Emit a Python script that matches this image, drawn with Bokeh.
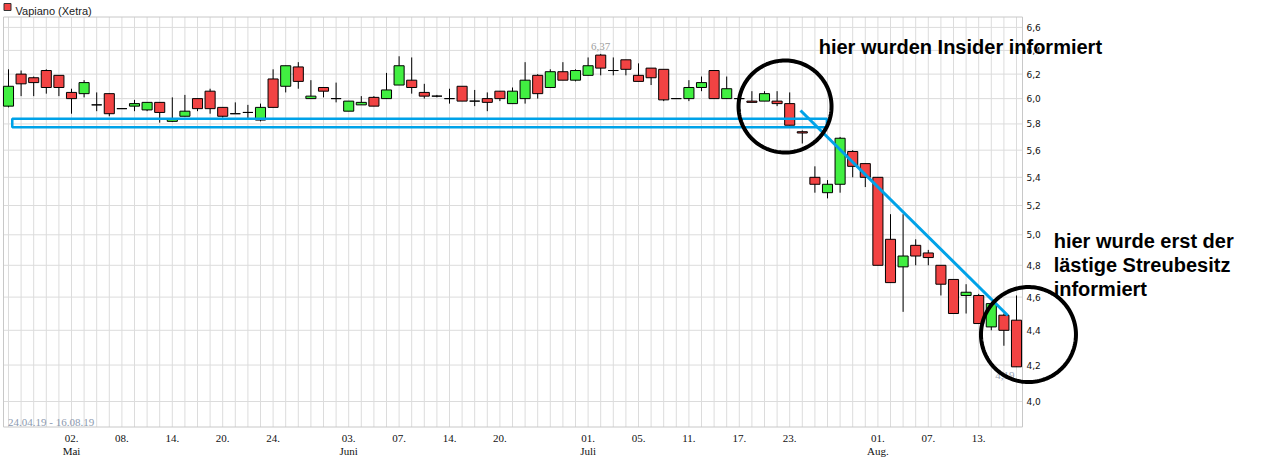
import numpy as np
from bokeh.plotting import figure
from bokeh.models import Range1d, Label, ColumnDataSource
from bokeh.core.properties import value
from bokeh.embed import file_html
from bokeh.resources import INLINE

# ---------------- data ----------------
dates = ["24.04.19", "25.04.19", "26.04.19", "29.04.19", "30.04.19",
         "02.05.19", "03.05.19", "06.05.19", "07.05.19", "08.05.19", "09.05.19", "10.05.19",
         "13.05.19", "14.05.19", "15.05.19", "16.05.19", "17.05.19", "20.05.19", "21.05.19",
         "22.05.19", "23.05.19", "24.05.19", "27.05.19", "28.05.19", "29.05.19", "30.05.19",
         "31.05.19",
         "03.06.19", "04.06.19", "05.06.19", "06.06.19", "07.06.19", "11.06.19", "12.06.19",
         "13.06.19", "14.06.19", "17.06.19", "18.06.19", "19.06.19", "20.06.19", "21.06.19",
         "24.06.19", "25.06.19", "26.06.19", "27.06.19", "28.06.19",
         "01.07.19", "02.07.19", "03.07.19", "04.07.19", "05.07.19", "08.07.19", "09.07.19",
         "10.07.19", "11.07.19", "12.07.19", "15.07.19", "16.07.19", "17.07.19", "18.07.19",
         "19.07.19", "22.07.19", "23.07.19", "24.07.19", "25.07.19", "26.07.19", "29.07.19",
         "30.07.19", "31.07.19",
         "01.08.19", "02.08.19", "05.08.19", "06.08.19", "07.08.19", "08.08.19", "09.08.19",
         "12.08.19", "13.08.19", "14.08.19", "15.08.19", "16.08.19"]

opens = [5.94, 6.20, 6.17, 6.23, 6.19, 6.05, 6.04, 5.95, 6.04, 5.92,
         5.94, 5.91, 5.97, 5.82, 5.86, 6.00, 6.06, 5.93, 5.88, 5.89,
         5.83, 6.16, 6.10, 6.26, 6.00, 6.09, 6.00, 5.90, 5.95, 6.01,
         6.00, 6.11, 6.15, 6.05, 6.02, 6.00, 6.10, 5.98, 6.00, 6.06,
         5.96, 6.00, 6.19, 6.09, 6.22, 6.15, 6.19, 6.36, 6.23, 6.32,
         6.19, 6.25, 6.24, 6.00, 6.00, 6.09, 6.23, 6.00, 6.00, 5.98,
         5.98, 5.98, 5.96, 5.74, 5.40, 5.29, 5.35, 5.59, 5.50, 5.40,
         4.97, 4.79, 4.93, 4.88, 4.80, 4.71, 4.61, 4.61, 4.42, 4.49,
         4.46]
highs = [6.24, 6.23, 6.18, 6.24, 6.19, 6.08, 6.15, 6.05, 6.04, 5.92,
         5.99, 5.97, 5.97, 6.01, 6.03, 6.00, 6.08, 5.93, 5.97, 5.95,
         5.96, 6.24, 6.27, 6.30, 6.15, 6.09, 6.13, 5.98, 6.02, 6.02,
         6.21, 6.35, 6.34, 6.12, 6.03, 6.08, 6.10, 6.07, 6.05, 6.06,
         6.09, 6.30, 6.20, 6.24, 6.30, 6.24, 6.34, 6.37, 6.34, 6.32,
         6.29, 6.25, 6.24, 6.00, 6.15, 6.18, 6.23, 6.18, 6.00, 6.06,
         6.06, 6.06, 6.05, 5.75, 5.48, 5.38, 5.70, 5.60, 5.50, 5.40,
         5.14, 5.14, 4.97, 4.90, 4.80, 4.71, 4.68, 4.62, 4.56, 4.50,
         4.61]
lows = [5.93, 6.02, 6.02, 6.04, 6.02, 5.88, 6.01, 5.90, 5.86, 5.92,
        5.90, 5.90, 5.81, 5.815, 5.86, 5.90, 5.88, 5.85, 5.88, 5.84,
        5.82, 5.93, 6.05, 6.08, 6.00, 6.01, 5.97, 5.90, 5.95, 5.94,
        6.00, 6.11, 6.04, 6.00, 6.01, 5.96, 5.98, 5.94, 5.90, 5.98,
        5.96, 5.96, 6.00, 6.09, 6.15, 6.14, 6.19, 6.19, 6.19, 6.19,
        6.14, 6.11, 5.98, 6.00, 5.98, 6.06, 6.00, 6.00, 6.00, 5.97,
        5.98, 5.94, 5.79, 5.65, 5.29, 5.25, 5.29, 5.40, 5.33, 4.80,
        4.69, 4.51, 4.80, 4.80, 4.61, 4.50, 4.50, 4.44, 4.40, 4.31,
        4.19]
closes = [6.10, 6.12, 6.13, 6.09, 6.09, 6.00, 6.13, 5.95, 5.88, 5.92,
          5.96, 5.97, 5.89, 5.84, 5.90, 5.92, 5.92, 5.86, 5.88, 5.89,
          5.93, 5.93, 6.27, 6.14, 6.02, 6.06, 6.00, 5.98, 5.97, 5.94,
          6.07, 6.27, 6.09, 6.02, 6.02, 6.00, 5.98, 5.98, 5.97, 6.00,
          6.06, 6.15, 6.04, 6.22, 6.15, 6.23, 6.27, 6.25, 6.23, 6.24,
          6.14, 6.17, 5.99, 6.00, 6.09, 6.13, 6.00, 6.08, 6.00, 5.97,
          6.04, 5.96, 5.79, 5.73, 5.35, 5.35, 5.69, 5.48, 5.40, 4.80,
          4.69, 4.86, 4.86, 4.85, 4.68, 4.50, 4.63, 4.44, 4.56, 4.40,
          4.19]

tick_idx = [5, 9, 13, 17, 21, 27, 31, 35, 39, 46, 50, 54, 58, 62, 69, 73, 77]
tick_labels = ["02.", "08.", "14.", "20.", "24.", "03.", "07.", "14.", "20.",
               "01.", "05.", "11.", "17.", "23.", "01.", "07.", "13."]
month_idx = [5, 27, 46, 69]
month_labels = ["Mai", "Juni", "Juli", "Aug."]
y_ticks = [4.0, 4.2, 4.4, 4.6, 4.8, 5.0, 5.2, 5.4, 5.6, 5.8, 6.0, 6.2, 6.4, 6.6]

series_name = "Vapiano (Xetra)"
note_top = "hier wurden Insider informiert"
note_bottom = ["hier wurde erst der", "lästige Streubesitz", "informiert"]

# ---------------- layout (whole canvas is the frame) ----------------
W, H = 1260, 460
PXD = 12.6              # pixels per trading day
PXLN = 747.0            # pixels per unit of ln(price)
X0 = -8 / PXD
X1 = X0 + W / PXD
Y1 = 4.0 * np.exp(401 / PXLN)
Y0 = Y1 * np.exp(-H / PXLN)

RED = "#f24343"
GREEN = "#41ef41"
BLUE = "#00a2e8"
GRID = "#dcdcdc"
NARROW = "Liberation Sans Narrow"
SANS = "Liberation Sans"
AXFONT = "DejaVu Sans"


def dx(px):
    """canvas x pixel -> data x"""
    return X0 + px / PXD


def dy(py):
    """canvas y pixel (from top) -> data y"""
    return float(Y1 * np.exp(-py / PXLN))


def ellipse(cx, cy, rx, ry, n=160):
    t = np.linspace(0, 2 * np.pi, n)
    xs = cx + rx * np.cos(t) / PXD
    ys = cy * np.exp(-ry * np.sin(t) / PXLN)
    return list(xs), list(ys)


# plot area bounds
PL, PR = dx(3), dx(1022)
PT, PB = dy(16.5), dy(426.5)

p = figure(width=W, height=H, x_range=Range1d(X0, X1), y_range=Range1d(Y0, Y1),
           y_axis_type="log", x_axis_location=None, y_axis_location=None,
           output_backend="svg", toolbar_location=None,
           min_border=0, min_border_left=0, min_border_right=0,
           min_border_top=0, min_border_bottom=0)
p.grid.visible = False
p.outline_line_color = None
p.background_fill_color = "white"
p.border_fill_color = "white"

idx = list(range(len(dates)))
src = ColumnDataSource(dict(
    x=idx, o=opens, h=highs, l=lows, c=closes,
    top=[max(o, c) for o, c in zip(opens, closes)],
    bot=[min(o, c) for o, c in zip(opens, closes)],
    color=[GREEN if c > o else RED for o, c in zip(opens, closes)],
))

# grid
p.segment(x0=idx, y0=[PB] * len(idx), x1=idx, y1=[PT] * len(idx),
          line_color=GRID, line_width=1)
p.segment(x0=[PL] * len(y_ticks), y0=y_ticks, x1=[PR] * len(y_ticks), y1=y_ticks,
          line_color=GRID, line_width=1)
p.quad(left=[PL], right=[PR], top=[PT], bottom=[PB], fill_color=None,
       line_color="#c8c8c8", line_width=1)

# y tick labels (right)
p.text(x=[PR] * len(y_ticks), y=y_ticks,
       text=[f"{t:.1f}".replace(".", ",") for t in y_ticks],
       text_font=value(AXFONT), text_font_size="9px", text_color="#111111",
       text_align="left", text_baseline="middle", x_offset=4)

# x tick labels (below)
p.text(x=tick_idx, y=[dy(437.5)] * len(tick_idx), text=tick_labels,
       text_font=value(NARROW), text_font_size="11px", text_color="#111111",
       text_align="center", text_baseline="alphabetic")
p.text(x=month_idx, y=[dy(450)] * len(month_idx), text=month_labels,
       text_font=value(NARROW), text_font_size="11px", text_color="#111111",
       text_align="center", text_baseline="alphabetic")

# candles
p.segment(x0="x", y0="h", x1="x", y1="l", source=src, line_color="black", line_width=1)
p.vbar(x="x", width=0.8, top="top", bottom="bot", source=src,
       fill_color="color", line_color="black", line_width=1)

# max / min labels
imax = int(np.argmax(highs))
imin = int(np.argmin(lows))
p.text(x=[imax], y=[highs[imax]], text=[f"{highs[imax]:.2f}".replace(".", ",")],
       text_font=value(NARROW), text_font_size="11px", text_color="#a0a0a0",
       text_align="center", text_baseline="bottom", y_offset=-4)
p.text(x=[imin], y=[lows[imin]], text=[f"{lows[imin]:.2f}".replace(".", ",")],
       text_font=value(NARROW), text_font_size="11px", text_color="#9aa6b8",
       text_align="right", text_baseline="top", x_offset=-2, y_offset=5)

# period label
p.add_layout(Label(x=dx(7.5), y=dy(421.5), text=f"{dates[0]} - {dates[-1]}",
                   text_font=NARROW, text_font_size="11px", text_color="#8c9ab0",
                   text_baseline="alphabetic"))

# legend
p.quad(left=[dx(3.5)], right=[dx(10.5)], top=[dy(3)], bottom=[dy(10)],
       fill_color=RED, line_color="#333333", line_width=1)
p.add_layout(Label(x=dx(15), y=dy(10.5), text=series_name, text_font=SANS,
                   text_font_size="11px", text_color="#222222", text_baseline="alphabetic"))

# drawn annotations
p.quad(left=[0.3], right=[64.95], top=[5.840], bottom=[5.775],
       fill_color=None, line_color=BLUE, line_width=2.5)
p.segment(x0=[62.86], y0=[5.905], x1=[79.31], y1=[4.488], line_color=BLUE, line_width=3)

for (cx, cy, rx, ry) in [(61.63, 5.937, 46.5, 46), (80.95, 4.375, 47.5, 47.5)]:
    xs, ys = ellipse(cx, cy, rx, ry)
    p.line(x=xs, y=ys, line_color="black", line_width=4)

p.add_layout(Label(x=64.3, y=6.425, text=note_top, text_font=SANS,
                   text_font_size="20px", text_font_style="bold", text_color="black",
                   text_baseline="alphabetic"))
for line, yv in zip(note_bottom, [4.956, 4.799, 4.653]):
    p.add_layout(Label(x=82.95, y=yv, text=line, text_font=SANS,
                       text_font_size="20px", text_font_style="bold", text_color="black",
                       text_baseline="alphabetic"))

open("out.html", "w").write(file_html(p, INLINE))
